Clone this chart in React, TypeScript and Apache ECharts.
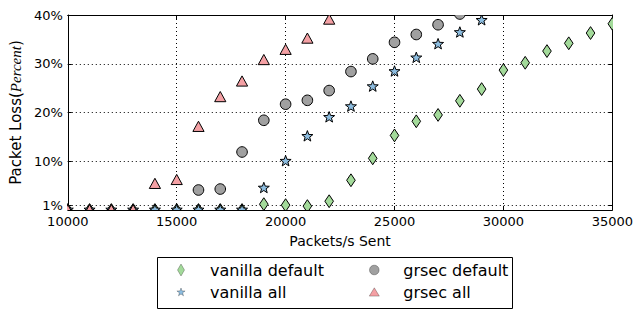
import React, { useEffect, useRef } from "react";
import * as echarts from "echarts";

const packetsSent = [10000, 11000, 12000, 13000, 14000, 15000, 16000, 17000, 18000, 19000, 20000, 21000, 22000, 23000, 24000, 25000, 26000, 27000, 28000, 29000, 30000, 31000, 32000, 33000, 34000, 35000];
const vanillaDefault = [0, 0, 0, 0, 0, 0, 0, 0, 0, 1.2, 1.0, 0.8, 1.8, 6.1, 10.6, 15.3, 18.2, 19.5, 22.4, 24.8, 28.7, 30.2, 32.6, 34.2, 36.3, 38.2];
const vanillaAll = [0, 0, 0, 0, 0, 0, 0, 0, 0, 4.5, 10.0, 15.1, 19.0, 21.2, 25.3, 28.4, 31.2, 34.0, 36.4, 38.9, null, null, null, null, null, null];
const grsecDefault = [null, null, null, null, null, null, 4.1, 4.3, 11.9, 18.4, 21.7, 22.5, 24.5, 28.4, 31.0, 34.4, 36.0, 38.0, 40.2, null, null, null, null, null, null, null];
const grsecAll = [0, 0, 0, 0, 5.4, 6.2, 17.1, 23.2, 26.4, 30.8, 32.9, 35.2, 39.1, null, null, null, null, null, null, null, null, null, null, null, null, null];
const yTicks = [1, 10, 20, 30, 40];
const seriesNames = ["vanilla default", "vanilla all", "grsec default", "grsec all"];

const FONT = "DejaVu Sans";
const COLORS = ["#a3da9a", "#8dbde0", "#a0a0a0", "#f4a0a4"];

function starPoints(ro: number, ri: number): number[][] {
  const pts: number[][] = [];
  for (let i = 0; i < 10; i++) {
    const r = i % 2 === 0 ? ro : ri;
    const a = -Math.PI / 2 + (i * Math.PI) / 5;
    pts.push([r * Math.cos(a), r * Math.sin(a)]);
  }
  return pts;
}

function circlePath(r: number): string {
  const parts: string[] = [];
  for (let i = 0; i < 24; i++) {
    const a = (i * Math.PI * 2) / 24;
    parts.push(`${i === 0 ? "M" : "L"}${(r * Math.cos(a)).toFixed(2)},${(r * Math.sin(a)).toFixed(2)}`);
  }
  return "path://M-7,-7L-7,-7M7,7L7,7" + parts.join("") + "Z";
}

const SHAPES: Record<string, number[][]> = {
  diamond: [[0, -6.4], [4.3, 0], [0, 6.4], [-4.3, 0]],
  star: starPoints(5.8, 2.4),
  triangle: [[0, -5.4], [5.6, 4.8], [-5.6, 4.8]],
};

function toPairs(vals: (number | null)[]) {
  const out: number[][] = [];
  vals.forEach((v, i) => {
    if (v !== null && v !== undefined) out.push([packetsSent[i], v]);
  });
  return out;
}

function makeRender(shape: string, color: string) {
  return (params: any, api: any) => {
    const p = api.coord([api.value(0), api.value(1)]);
    const style = { fill: color, stroke: "#000", lineWidth: 1 };
    if (shape === "circle") {
      return { type: "circle", shape: { cx: p[0], cy: p[1], r: 5.3 }, style };
    }
    return {
      type: "polygon",
      shape: { points: SHAPES[shape].map(([dx, dy]) => [p[0] + dx, p[1] + dy]) },
      style,
    };
  };
}

export default function App() {
  const ref = useRef<HTMLDivElement>(null);
  useEffect(() => {
    if (!ref.current) return;
    const chart = echarts.init(ref.current, null, { renderer: "svg" });
    const shapes = ["diamond", "star", "circle", "triangle"];
    const datas = [vanillaDefault, vanillaAll, grsecDefault, grsecAll];
    const icons = [
      "path://M-7,-7L-7,-7M7,7L7,7M0,-6L3.5,0L0,6L-3.5,0Z",
      "path://M-7,-7L-7,-7M7,7L7,7M0,-4.3L1.0,-1.4L4.1,-1.3L1.6,0.5L2.5,3.5L0,1.7L-2.5,3.5L-1.6,0.5L-4.1,-1.3L-1.0,-1.4Z",
      circlePath(4.8),
      "path://M-7,-7L-7,-7M7,7L7,7M0,-4.5L5,3.8L-5,3.8Z",
    ];
    const legendItem = (i: number) => ({
      name: seriesNames[i],
      icon: icons[i],
      itemStyle: { color: COLORS[i], borderColor: "rgba(0,0,0,0.45)", borderWidth: 0.6 },
    });
    const legendCommon = {
      orient: "vertical",
      padding: 0,
      itemWidth: 14,
      itemHeight: 14,
      itemGap: 6.3,
      selectedMode: false,
      textStyle: { fontFamily: FONT, fontSize: 16, color: "#000", lineHeight: 16, padding: [0, 0, 0, 17] },
    };
    const axisLineStyle = { lineStyle: { color: "#000", width: 1 } };
    const tickStyle = { show: true, inside: true, length: 4, lineStyle: { color: "#000", width: 1 } };
    chart.setOption({
      animation: false,
      grid: { left: 60, top: 15, right: 22, bottom: 100 },
      xAxis: [
        {
          type: "value",
          min: 10000,
          max: 35000,
          interval: 5000,
          position: "bottom",
          axisLine: { show: true, onZero: false, ...axisLineStyle },
          axisTick: tickStyle,
          axisLabel: { fontFamily: FONT, fontSize: 13, color: "#000", margin: 5, formatter: (v: number) => String(v) },
          splitLine: { show: true, lineStyle: { color: "#000", type: [1, 3], width: 1 } },
          name: "Packets/s Sent",
          nameLocation: "middle",
          nameGap: 24,
          nameTextStyle: { fontFamily: FONT, fontSize: 14, color: "#000" },
        },
        {
          type: "value",
          min: 10000,
          max: 35000,
          interval: 5000,
          position: "top",
          axisLine: { show: true, onZero: false, ...axisLineStyle },
          axisTick: tickStyle,
          axisLabel: { show: false },
          splitLine: { show: false },
        },
      ],
      yAxis: [
        {
          type: "value",
          min: 0,
          max: 40,
          position: "left",
          axisLine: { show: true, onZero: false, ...axisLineStyle },
          axisTick: { ...tickStyle, customValues: yTicks },
          axisLabel: {
            fontFamily: FONT,
            fontSize: 13,
            color: "#000",
            margin: 5,
            customValues: yTicks,
            formatter: (v: number) => `${v}%`,
          },
          splitLine: { show: true, lineStyle: { color: "#000", type: [1, 3], width: 1 } },
          name: "{a|Packet Loss}{b|(}{c|Percent}{b|)}",
          nameLocation: "middle",
          nameGap: 42,
          nameTextStyle: {
            rich: {
              a: { fontFamily: FONT, fontSize: 15, color: "#000" },
              b: { fontFamily: FONT, fontSize: 15, color: "#000" },
              c: { fontFamily: "Liberation Serif", fontStyle: "italic", fontSize: 15, color: "#000" },
            },
          },
        },
        {
          type: "value",
          min: 0,
          max: 40,
          position: "right",
          axisLine: { show: true, onZero: false, ...axisLineStyle },
          axisTick: { ...tickStyle, customValues: yTicks },
          axisLabel: { show: false },
          splitLine: { show: false },
        },
      ],
      legend: [
        { ...legendCommon, left: 173.7, top: 262, data: [legendItem(0), legendItem(1)] },
        { ...legendCommon, left: 367, top: 262, data: [legendItem(2), legendItem(3)] },
      ],
      graphic: [
        {
          type: "rect",
          z: 0,
          shape: { x: 157.5, y: 257.5, width: 355, height: 51 },
          style: { fill: "#fff", stroke: "#000", lineWidth: 1 },
        },
      ],
      series: datas.map((d, i) => ({
        type: "custom",
        name: seriesNames[i],
        clip: true,
        xAxisIndex: 0,
        yAxisIndex: 0,
        encode: { x: 0, y: 1 },
        itemStyle: { color: COLORS[i] },
        data: toPairs(d),
        renderItem: makeRender(shapes[i], COLORS[i]),
        z: 2 + i,
      })),
    });
    return () => chart.dispose();
  }, []);
  return (
    <div
      ref={ref}
      style={{ position: "fixed", left: 0, top: 0, width: 636, height: 310, background: "#fff" }}
    />
  );
}
